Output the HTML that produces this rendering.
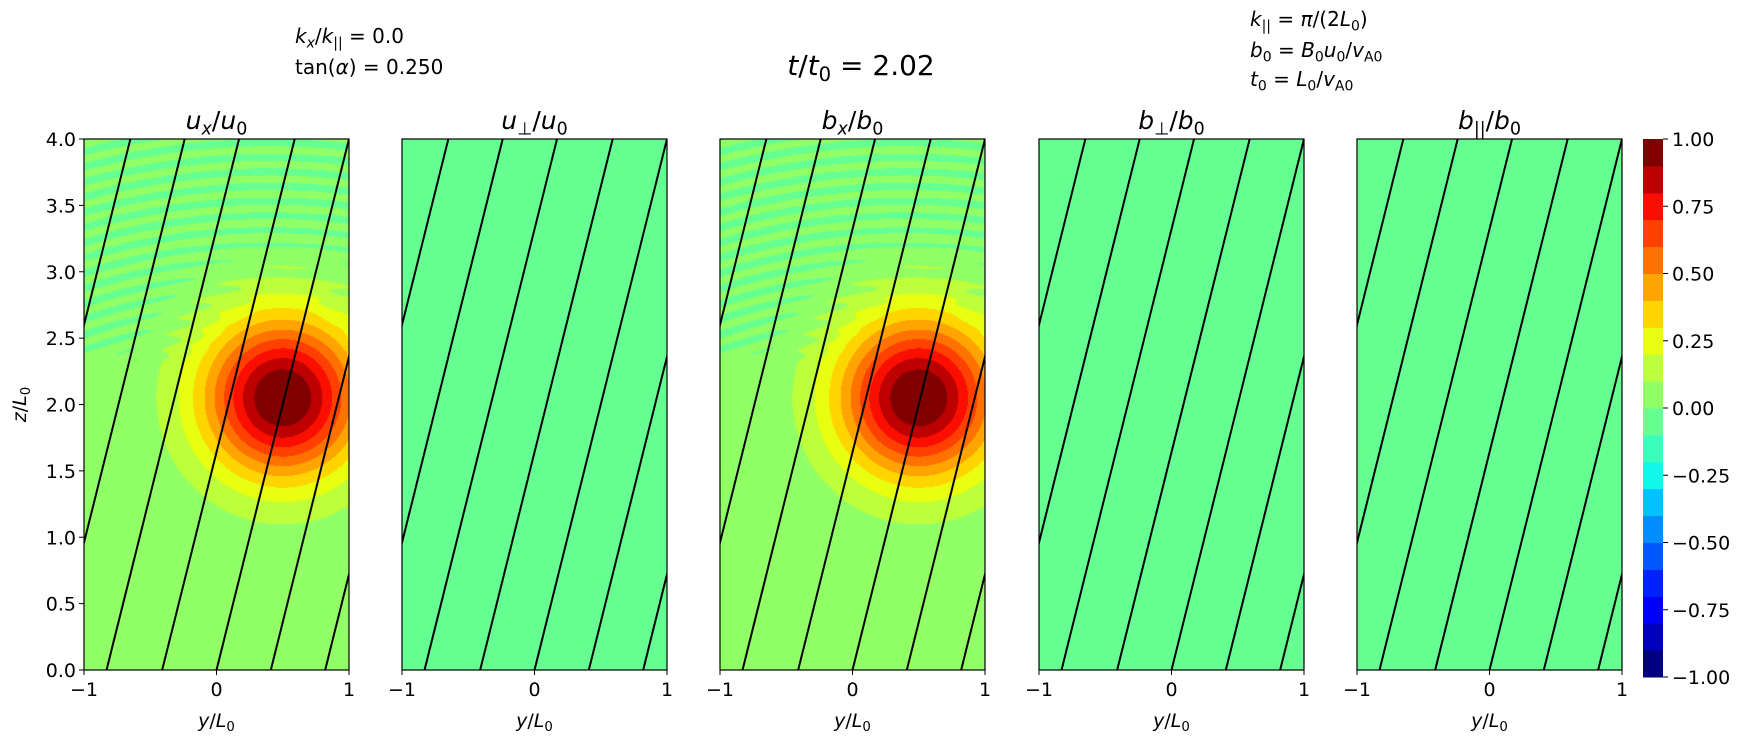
<!DOCTYPE html>
<html><head><meta charset="utf-8"><style>
html,body{margin:0;padding:0;background:#fff;}
#wrap{position:relative;width:1749px;height:738px;overflow:hidden;}
canvas{position:absolute;}
svg{position:absolute;left:0;top:0;}
text{font-family:"DejaVu Sans","Liberation Sans",sans-serif;fill:#000;}
</style></head><body>
<div id="wrap">
<svg id="svg" width="1749" height="738"></svg>
</div>
<script>
// ---- data ----
const levels = [-1,-0.9,-0.8,-0.7,-0.6,-0.5,-0.4,-0.3,-0.2,-0.1,0,0.1,0.2,0.3,0.4,0.5,0.6,0.7,0.8,0.9,1];
const panelTitles = ["u_x/u_0","u_⊥/u_0","b_x/b_0","b_⊥/b_0","b_||/b_0"];
const panelAmplitude = [1,0,1,0,0];
const panelBackground = [0.02,-0.03,0.02,-0.03,-0.03];
const panelRipple = [0.04,0,0.04,0,0];
const humpCenter = [0.5,2.05];
const humpWidth = 0.6;
const tanAlpha = 0.25;
const fieldLineOffsets = [-1.65,-1.24,-0.83,-0.41,0,0.41,0.82];
const xTicks = [-1,0,1];
const xTickLabels = ["−1","0","1"];
const yTicks = [0,0.5,1,1.5,2,2.5,3,3.5,4];
const yTickLabels = ["0.0","0.5","1.0","1.5","2.0","2.5","3.0","3.5","4.0"];
const cbTicks = [-1,-0.75,-0.5,-0.25,0,0.25,0.5,0.75,1];
const cbTickLabels = ["−1.00","−0.75","−0.50","−0.25","0.00","0.25","0.50","0.75","1.00"];

// ---- layout ----
const lefts=[84,402,720,1039,1357], W=265, TOP=139, BOT=670, H=BOT-TOP;
const CBX=1643, CBW=20, CBT=139, CBB=677;
const NS="http://www.w3.org/2000/svg";
const svg=document.getElementById('svg');
const wrap=document.getElementById('wrap');
function xs(i,y){return lefts[i]+(y+1)/2*W;}
function zs(z){return BOT-z/4*H;}
function el(tag,attrs,parent){const e=document.createElementNS(NS,tag);for(const k in attrs)e.setAttribute(k,attrs[k]);(parent||svg).appendChild(e);return e;}

function interp(pts,x){for(let i=0;i<pts.length-1;i++){const[a,va]=pts[i],[b,vb]=pts[i+1];if(x>=a&&x<=b)return va+(vb-va)*(x-a)/(b-a);}return pts[pts.length-1][1];}
function jet(x){
 const r=interp([[0,0],[0.35,0],[0.66,1],[0.89,1],[1,0.5]],x);
 const g=interp([[0,0],[0.125,0],[0.375,1],[0.64,1],[0.91,0],[1,0]],x);
 const b=interp([[0,0.5],[0.11,1],[0.34,1],[0.65,0],[1,0]],x);
 return [Math.round(r*255),Math.round(g*255),Math.round(b*255)];
}
const nBands=levels.length-1;
const bandColors=[];for(let i=0;i<nBands;i++)bandColors.push(jet(i/(nBands-1)));
function bandOf(v){for(let i=0;i<nBands;i++){if(v<levels[i+1])return Math.max(i,0);}return nBands-1;}
function field(p,y,z){
 const dy=y-humpCenter[0],dz=z-humpCenter[1];
 const gauss=Math.exp(-(dy*dy+dz*dz)/(humpWidth*humpWidth));
 let v=panelBackground[p]+panelAmplitude[p]*gauss;
 if(panelRipple[p]>0){
   const m=Math.min(1,Math.max(0,(z-2.3)/0.15))*Math.max(0,1-3*gauss);
   const r=Math.sqrt((y-0.4)*(y-0.4)+(z+1.5)*(z+1.5));
   v+=-0.02*m+panelRipple[p]*m*Math.sin(2*Math.PI*r/0.11);
 }
 return v;
}

function mathText(parent,x,y,size,parts,anchor){
 const t=el('text',{x:x,y:y,'font-size':size,'text-anchor':anchor||'start'},parent);
 parts.forEach(p=>{const ts=document.createElementNS(NS,'tspan');
   if(p.it)ts.setAttribute('font-style','italic');
   if(p.sub){ts.setAttribute('font-size',size*0.7);ts.setAttribute('dy',size*0.22);}
   if(p.up){ts.setAttribute('dy',-size*0.22);}
   ts.textContent=p.t;t.appendChild(ts);});
 return t;
}
function titleParts(s){
 const [a,b]=s.split('/');const [a1,a2]=a.split('_');const [b1,b2]=b.split('_');
 return [{t:a1,it:1},{t:a2,sub:1,it:a2==='x'},{t:'/',up:1},{t:b1,it:1},{t:b2,sub:1}];
}

const defs=el('defs',{});
for(let p=0;p<5;p++){
 const cv=document.createElement('canvas');cv.width=W;cv.height=H;
 cv.style.left=lefts[p]+'px';cv.style.top=TOP+'px';
 
 
 wrap.insertBefore(cv,svg);
 const ctx=cv.getContext('2d');const img=ctx.createImageData(W,H);
 for(let j=0;j<H;j++){const z=4-(j+0.5)/H*4;
  for(let i=0;i<W;i++){const y=-1+(i+0.5)/W*2;
   const c=bandColors[bandOf(field(p,y,z))];const k=(j*W+i)*4;
   img.data[k]=c[0];img.data[k+1]=c[1];img.data[k+2]=c[2];img.data[k+3]=255;}}
 ctx.putImageData(img,0,0);

 const g=el('g',{});
 
 
 const cp=el('clipPath',{id:'cp'+p},defs);el('rect',{x:lefts[p],y:TOP,width:W,height:H},cp);
 const lg=el('g',{'clip-path':'url(#cp'+p+')'},g);
 fieldLineOffsets.forEach((o,k)=>{
  const ln=el('line',{x1:xs(p,o),y1:zs(0),x2:xs(p,o+tanAlpha*4),y2:zs(4),stroke:'#000','stroke-width':2},lg);
  
  
 });
 const fr=el('rect',{x:lefts[p],y:TOP,width:W,height:H,fill:'none',stroke:'#000','stroke-width':1.2},g);
 
 
 const tt=mathText(g,lefts[p]+W/2,TOP-10,25,titleParts(panelTitles[p]),'middle');
 
 
 xTicks.forEach((v,k)=>{
  el('line',{x1:xs(p,v),y1:BOT,x2:xs(p,v),y2:BOT+5,stroke:'#000','stroke-width':1},g);
  const tl=el('text',{x:xs(p,v),y:BOT+26,'font-size':19,'text-anchor':'middle'},g);tl.textContent=xTickLabels[k];
  
  
 });
 const xl=mathText(g,lefts[p]+W/2,BOT+57,19,[{t:'y',it:1},{t:'/'},{t:'L',it:1},{t:'0',sub:1}],'middle');
 
 
 if(p===0){
  yTicks.forEach((v,k)=>{
   el('line',{x1:lefts[0]-5,y1:zs(v),x2:lefts[0],y2:zs(v),stroke:'#000','stroke-width':1},g);
   const tl=el('text',{x:lefts[0]-8,y:zs(v)+7,'font-size':19,'text-anchor':'end'},g);tl.textContent=yTickLabels[k];
   
   
  });
  const yl=mathText(g,0,0,19,[{t:'z',it:1},{t:'/'},{t:'L',it:1},{t:'0',sub:1}],'middle');
  yl.setAttribute('transform','translate(26,'+(TOP+H/2)+') rotate(-90)');
  
  
 }
}
// colorbar
const cb=el('g',{});


const bh=(CBB-CBT)/nBands;
for(let i=0;i<nBands;i++){const c=bandColors[i];
 const r=el('rect',{x:CBX,y:CBB-(i+1)*bh,width:CBW,height:bh+0.5,fill:'rgb('+c.join(',')+')'},cb);
 
 
}
cbTicks.forEach((v,k)=>{const y=CBB-(v+1)/2*(CBB-CBT);
 el('line',{x1:CBX+CBW,y1:y,x2:CBX+CBW+5,y2:y,stroke:'#000','stroke-width':1},cb);
 const t=el('text',{x:CBX+CBW+9,y:y+7,'font-size':19},cb);t.textContent=cbTickLabels[k];
 
 
});
// annotations
const a1=mathText(svg,295,43,20,[{t:'k',it:1},{t:'x',sub:1,it:1},{t:'/',up:1},{t:'k',it:1},{t:'||',sub:1},{t:' = 0.0',up:1}]);


const a2=mathText(svg,295,74,20,[{t:'tan('},{t:'α',it:1},{t:') = 0.250'}]);


const st=mathText(svg,861,75,28,[{t:'t',it:1},{t:'/'},{t:'t',it:1},{t:'0',sub:1},{t:' = 2.02',up:1}],'middle');


const r1=mathText(svg,1250,26,20,[{t:'k',it:1},{t:'||',sub:1},{t:' = ',up:1},{t:'π',it:1},{t:'/(2'},{t:'L',it:1},{t:'0',sub:1},{t:')',up:1}]);


const r2=mathText(svg,1250,57,20,[{t:'b',it:1},{t:'0',sub:1},{t:' = ',up:1},{t:'B',it:1},{t:'0',sub:1},{t:'u',it:1,up:1},{t:'0',sub:1},{t:'/',up:1},{t:'v',it:1},{t:'A0',sub:1}]);


const r3=mathText(svg,1250,86,20,[{t:'t',it:1},{t:'0',sub:1},{t:' = ',up:1},{t:'L',it:1},{t:'0',sub:1},{t:'/',up:1},{t:'v',it:1},{t:'A0',sub:1}]);


</script>
</body></html>
